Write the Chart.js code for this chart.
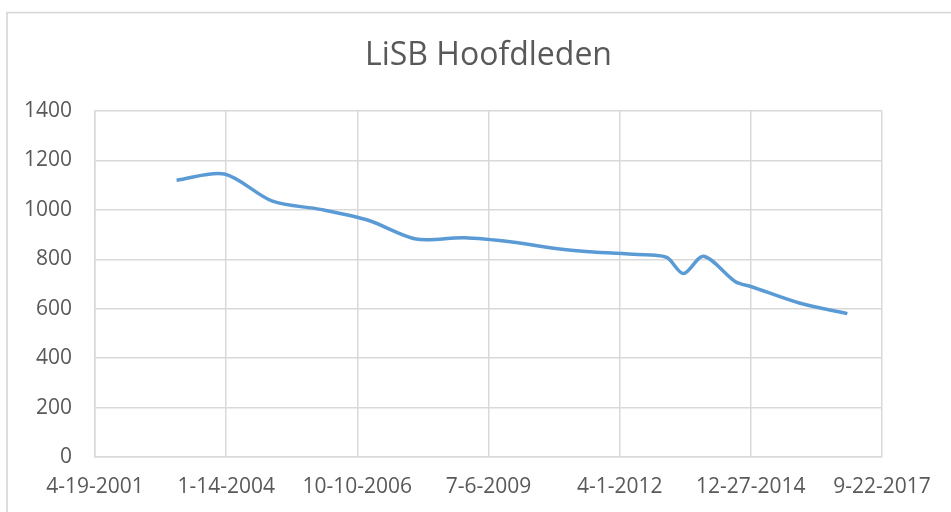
<!DOCTYPE html>
<html lang="nl">
  <head>
    <meta charset="UTF-8" />
    <title>LiSB Hoofdleden</title>
    <script src="https://cdn.jsdelivr.net/npm/chart.js"></script>
    <style>
      body { margin: 0; background: #fff; }
      canvas { display: block; }
    </style>
  </head>
  <body>
    <canvas id="hoofdledenChart" width="951" height="512"></canvas>

    <script>
      // meetmomenten en aantal hoofdleden
      const dates = [
        '2003-01-01', '2004-01-01', '2005-01-01', '2006-01-01', '2007-01-01',
        '2008-01-01', '2009-01-01', '2010-01-01', '2011-01-01', '2012-01-01',
        '2013-01-01', '2013-04-01', '2013-08-01', '2014-01-01', '2014-09-01',
        '2015-01-01', '2016-01-01', '2017-01-01',
      ];
      const members = [
        1120, 1145, 1035, 1002, 958,
        882, 887, 870, 842, 826,
        816, 806, 742, 812, 709,
        689, 623, 580,
      ];
      const xTickLabels = ['4-19-2001', '1-14-2004', '10-10-2006', '7-6-2009', '4-1-2012', '12-27-2014', '9-22-2017'];
      const yTicks = [0, 200, 400, 600, 800, 1000, 1200, 1400];

      // Excel-achtig datumnummer
      function serial(s) {
        const p = s.split('-').map(Number);
        return Date.UTC(p[0], p[1] - 1, p[2]) / 86400000 + 25569;
      }

      const points = dates.map((d, i) => ({ x: serial(d), y: members[i] }));
      const xMin = serial('2001-04-19');
      const xMax = serial('2017-09-22');

      const textColor = '#595959';
      const gridColor = '#d9d9d9';

      const frame = {
        id: 'frame',
        beforeDraw(chart) {
          const c = chart.ctx;
          c.save();
          c.strokeStyle = gridColor;
          c.lineWidth = 1.75;
          c.beginPath();
          c.moveTo(7, 512);
          c.lineTo(7, 12.5);
          c.lineTo(951, 12.5);
          c.stroke();
          c.restore();
        },
      };

      const ctx = document.getElementById('hoofdledenChart').getContext('2d');
      const chart = new Chart(ctx, {
        type: 'line',
        data: {
          datasets: [
            {
              label: 'Hoofdleden',
              data: points,
              borderColor: '#5b9bd5',
              borderWidth: 3.5,
              pointRadius: 0,
              tension: 0.3,
              fill: false,
            },
          ],
        },
        options: {
          responsive: false,
          animation: false,
          devicePixelRatio: 1,
          layout: { padding: { left: 0, right: 69, top: 0, bottom: 0 } },
          plugins: {
            legend: { display: false },
            tooltip: { enabled: false },
            title: {
              display: true,
              fullSize: false,
              text: 'LiSB Hoofdleden',
              color: textColor,
              font: { family: 'Open Sans', size: 32, weight: 'normal', lineHeight: 1.2 },
              padding: { top: 37, bottom: 35.6 },
            },
          },
          scales: {
            x: {
              type: 'linear',
              min: xMin,
              max: xMax,
              afterBuildTicks: (scale) => {
                scale.ticks = xTickLabels.map((l, i) => ({ value: xMin + i * 1000 }));
              },
              afterFit: (scale) => { scale.height = 55; },
              grid: { color: gridColor, lineWidth: 1.5, drawTicks: false },
              border: { color: gridColor, width: 1.5 },
              ticks: {
                color: textColor,
                font: { family: 'Open Sans', size: 21 },
                padding: 17,
                maxRotation: 0,
                autoSkip: false,
                callback: (v, i) => xTickLabels[i],
              },
            },
            y: {
              min: 0,
              max: 1400,
              afterBuildTicks: (scale) => {
                scale.ticks = yTicks.map((v) => ({ value: v }));
              },
              afterFit: (scale) => { scale.width = 95; },
              grid: { color: gridColor, lineWidth: 1.5, drawTicks: false },
              border: { color: gridColor, width: 1.5 },
              ticks: {
                color: textColor,
                font: { family: 'Open Sans', size: 21 },
                padding: 23,
                callback: (v) => String(v),
              },
            },
          },
        },
        plugins: [frame],
      });
    </script>
  </body>
</html>
